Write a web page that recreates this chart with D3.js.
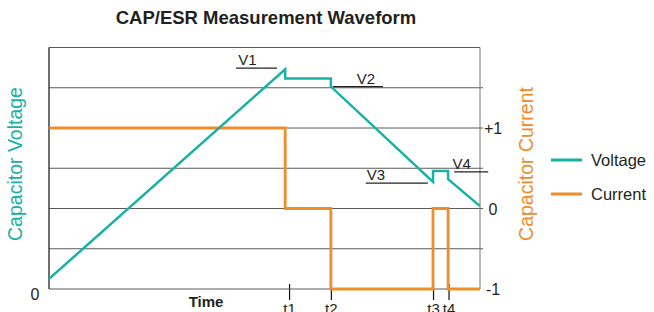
<!DOCTYPE html>
<html>
<head>
<meta charset="utf-8">
<script src="https://cdn.jsdelivr.net/npm/d3@7"></script>
<style>
  body { margin: 0; background: #fff; }
  svg { font-family: "Liberation Sans", Arial, Helvetica, sans-serif; }
</style>
</head>
<body>
<div id="chart"></div>
<script>
// time runs 0..100, voltage in grid units 0..6, current -1..+1
const voltageTimes  = [0, 54.8, 54.8, 65.4, 65.4, 89.1, 89.1, 92.6, 92.6, 100];
const voltageValues = [0.25, 5.46, 5.23, 5.23, 5.03, 2.66, 2.93, 2.93, 2.73, 2.06];

const currentTimes  = [0, 54.8, 65.4, 89.1, 92.6, 100];
const currentValues = [1, 0, -1, 0, -1, -1];

const tickTimes  = [55.7, 65.4, 89.1, 92.7];
const tickLabels = ["t1", "t2", "t3", "t4"];

const currentTicks  = [1, 0, -1];
const currentLabels = ["+1", "0", "-1"];

// V markers: label, level (voltage), underline from/to (time)
const markLabels = ["V1", "V2", "V3", "V4"];
const markLevels = [5.49, 5.03, 2.63, 2.91];
const markFrom   = [43.4, 65.9, 73.5, 94.0];
const markTo     = [52.9, 77.5, 87.9, 101.9];
const markTextAt = [43.9, 71.4, 73.7, 93.6];

const legendNames = ["Voltage", "Current"];

const width = 654, height = 312;
const m = { left: 49, right: 480, top: 47.5, bottom: 289 };
const colors = { voltage: "#17b1a5", current: "#ef8d2b", grid: "#5a5a5a", text: "#231f20" };

const svg = d3.select("#chart").append("svg")
    .attr("width", width)
    .attr("height", height);

const x = d3.scaleLinear().domain([0, 100]).range([m.left, m.right]);
const yV = d3.scaleLinear().domain([0, 6]).range([m.bottom, m.top]);
const yI = d3.scaleLinear().domain([-1, 2]).range([m.bottom, m.top]);

// grid lines
svg.append("g")
    .selectAll("line")
    .data(d3.range(1, 7))
    .join("line")
    .attr("x1", m.left)
    .attr("x2", d => d === 6 ? m.right : m.right + 3)
    .attr("y1", d => yV(d))
    .attr("y2", d => yV(d))
    .style("stroke", colors.grid)
    .style("stroke-width", 1);

// frame
svg.append("line")
    .attr("x1", m.right).attr("x2", m.right)
    .attr("y1", m.top).attr("y2", m.bottom)
    .style("stroke", "#777").style("stroke-width", 1);

// bottom time axis with custom ticks
const xAxis = d3.axisBottom(x)
    .tickValues(tickTimes)
    .tickFormat((d, i) => tickLabels[i])
    .tickSize(16)
    .tickPadding(3);

const gx = svg.append("g")
    .attr("transform", `translate(0,${m.bottom - 5})`)
    .call(xAxis);
gx.select(".domain").remove();
gx.selectAll(".tick line").style("stroke", "#111").style("stroke-width", 1.2);
gx.selectAll(".tick text")
    .style("font-size", "15px")
    .style("fill", colors.text);

svg.append("line")
    .attr("x1", m.left).attr("x2", m.right)
    .attr("y1", m.bottom).attr("y2", m.bottom)
    .style("stroke", colors.grid).style("stroke-width", 1);

svg.append("line")
    .attr("x1", m.left).attr("x2", m.left)
    .attr("y1", m.top).attr("y2", m.bottom)
    .style("stroke", "#222").style("stroke-width", 1.3);

// V markers
const marks = svg.append("g");
markLabels.forEach((lab, i) => {
    marks.append("line")
        .attr("x1", x(markFrom[i])).attr("x2", x(markTo[i]))
        .attr("y1", yV(markLevels[i])).attr("y2", yV(markLevels[i]))
        .style("stroke", "#222").style("stroke-width", 1.2);
    marks.append("text")
        .attr("x", x(markTextAt[i]))
        .attr("y", yV(markLevels[i]) - 3)
        .style("font-size", "15px")
        .style("fill", colors.text)
        .text(lab);
});

// series
const voltageData = voltageTimes.map((t, i) => [t, voltageValues[i]]);
const currentData = currentTimes.map((t, i) => [t, currentValues[i]]);

svg.append("path")
    .datum(currentData)
    .attr("d", d3.line().x(d => x(d[0])).y(d => yI(d[1])).curve(d3.curveStepAfter))
    .style("fill", "none")
    .style("stroke", colors.current)
    .style("stroke-width", 2.8);

svg.append("path")
    .datum(voltageData)
    .attr("d", d3.line().x(d => x(d[0])).y(d => yV(d[1])))
    .style("fill", "none")
    .style("stroke", colors.voltage)
    .style("stroke-width", 2.5);

// right current labels
svg.append("g")
    .selectAll("text")
    .data(currentTicks)
    .join("text")
    .attr("x", 493)
    .attr("y", d => yI(d) + 6)
    .attr("text-anchor", "middle")
    .style("font-size", "16px")
    .style("fill", colors.text)
    .text((d, i) => currentLabels[i]);

// left zero
svg.append("text")
    .attr("x", 35).attr("y", 300)
    .attr("text-anchor", "middle")
    .style("font-size", "16px")
    .style("fill", colors.text)
    .text("0");

svg.append("text")
    .attr("x", 206).attr("y", 307)
    .attr("text-anchor", "middle")
    .style("font-size", "15px")
    .style("font-weight", "700")
    .style("fill", colors.text)
    .text("Time");

// axis titles
svg.append("text")
    .attr("transform", "translate(22,164) rotate(-90)")
    .attr("text-anchor", "middle")
    .style("font-size", "19.5px")
    .style("fill", colors.voltage)
    .text("Capacitor Voltage");

svg.append("text")
    .attr("transform", "translate(533,164) rotate(-90)")
    .attr("text-anchor", "middle")
    .style("font-size", "19.5px")
    .style("fill", colors.current)
    .text("Capacitor Current");

// title
svg.append("text")
    .attr("x", 266).attr("y", 24)
    .attr("text-anchor", "middle")
    .style("font-size", "18.5px")
    .style("font-weight", "700")
    .style("fill", colors.text)
    .text("CAP/ESR Measurement Waveform");

// legend
const legend = svg.append("g");
legendNames.forEach((name, i) => {
    const ly = 160 + i * 34;
    legend.append("line")
        .attr("x1", 551).attr("x2", 582)
        .attr("y1", ly).attr("y2", ly)
        .style("stroke", i === 0 ? colors.voltage : colors.current)
        .style("stroke-width", 3);
    legend.append("text")
        .attr("x", 591).attr("y", ly + 6)
        .style("font-size", "16.5px")
        .style("fill", colors.text)
        .text(name);
});
</script>
</body>
</html>
